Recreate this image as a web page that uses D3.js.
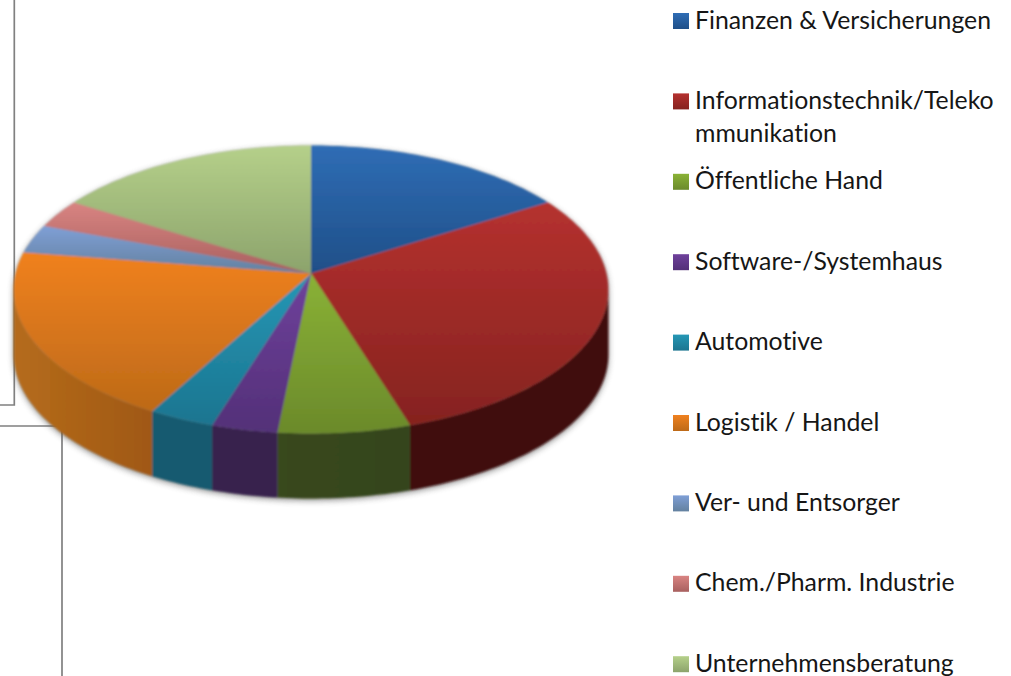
<!DOCTYPE html>
<html>
<head>
<meta charset="utf-8">
<script src="https://cdn.jsdelivr.net/npm/d3@7"></script>
<style>
    html, body { margin: 0; padding: 0; background: #fff; overflow: hidden; }
    text { font-family: Lato, "Open Sans", sans-serif; font-size: 24.8px; fill: #161616; font-variant-ligatures: none; }
</style>
</head>
<body>
<div id="chart"></div>
<script>
// companies per sector, counted from the slice sizes
let categories = ["Finanzen & Versicherungen", "Informationstechnik/Teleko\nmmunikation", "Öffentliche Hand", "Software-/Systemhaus", "Automotive", "Logistik / Handel", "Ver- und Entsorger", "Chem./Pharm. Industrie", "Unternehmensberatung"]
let values = [5, 9, 2, 1, 1, 6, 1, 1, 5]

// top gradient, bottom gradient, side wall (left end, right end)
let topColors = ["#2f6db5", "#b5312f", "#8ab236", "#6f419c", "#2597b5", "#f0811f", "#7f9fd6", "#d98482", "#b5d08a"]
let bottomColors = ["#1f4f88", "#85231f", "#6b8a2b", "#533078", "#1c7590", "#bd6a18", "#63819f", "#a8605f", "#8ca36c"]
let sideLeftColors = ["#1a3a60", "#3f0f0f", "#39481a", "#38234d", "#195a70", "#b56c1c", "#4a6078", "#784040", "#64754a"]
let sideRightColors = ["#1a3a60", "#3f0f0f", "#34451a", "#38234d", "#195a70", "#a05813", "#4a6078", "#784040", "#64754a"]

let width = 1011
let height = 676

// pie position and perspective
let apexX = 311
let apexY = 273.5
let radiusX = 295.5
let radiusY = 142.2
let perspective = 1 / 9
let depth = 65

// legend layout
let legendX = 673
let legendY = 13
let legendStep = 80.4
let legendBox = 16
let lineHeight = 33

let svg = d3.select("#chart").append("svg").attr("width", width).attr("height", height).style("display", "block")
let defs = svg.append("defs")

defs.append("filter").attr("id", "shadow").attr("x", "-10%").attr("y", "-10%").attr("width", "120%").attr("height", "120%")
    .append("feGaussianBlur").attr("stdDeviation", 3)
defs.append("filter").attr("id", "soften")
    .append("feGaussianBlur").attr("stdDeviation", 0.8)

categories.forEach((c, i) => {
    let g = defs.append("linearGradient").attr("id", "grad" + i).attr("x1", 0).attr("y1", 0).attr("x2", 0).attr("y2", 1)
    g.append("stop").attr("offset", "0%").attr("stop-color", topColors[i])
    g.append("stop").attr("offset", "100%").attr("stop-color", bottomColors[i])
    let s = defs.append("linearGradient").attr("id", "side" + i).attr("x1", 0).attr("y1", 0).attr("x2", 1).attr("y2", 0)
    s.append("stop").attr("offset", "0%").attr("stop-color", sideLeftColors[i])
    s.append("stop").attr("offset", "100%").attr("stop-color", sideRightColors[i])
})

// the leftover frames behind the pie
let frames = svg.append("g").attr("fill", "none").attr("stroke", "#808080").attr("stroke-width", 1.7)
frames.append("path").attr("d", d3.line()([[14.3, 0], [14.3, 405], [0, 405]]))
frames.append("path").attr("d", d3.line()([[0, 426], [62, 426], [62, height]]))

// angle on the disc to a point on the screen
function project(angle, drop){
    let px = Math.sin(angle)
    let py = Math.cos(angle)
    let w = 1 + perspective * py
    return [apexX + radiusX * px / w, apexY - radiusY * py / w + drop]
}

function sampleAngles(a0, a1){
    let n = Math.max(2, Math.ceil((a1 - a0) / 0.02))
    return d3.range(n + 1).map(i => a0 + (a1 - a0) * i / n)
}

let pie = d3.pie().sort(null).value(d => d)
let slices = pie(values)

// where the rim turns away from the viewer
let rightAngle = Math.acos(-perspective)
let leftAngle = 2 * Math.PI - rightAngle

let line = d3.line()
let hull = sampleAngles(rightAngle, leftAngle).map(a => project(a, depth))
    .concat(sampleAngles(leftAngle, rightAngle + 2 * Math.PI).map(a => project(a, 0)))

svg.append("path")
    .attr("d", line(hull) + "Z")
    .attr("transform", "translate(0,2)")
    .attr("fill", "#555")
    .attr("opacity", 0.65)
    .attr("filter", "url(#shadow)")

let pieGroup = svg.append("g").attr("filter", "url(#soften)")

// side wall
slices.forEach((d, i) => {
    let a0 = Math.max(d.startAngle, rightAngle)
    let a1 = Math.min(d.endAngle, leftAngle)
    if(a1 <= a0){
        return
    }
    let angles = sampleAngles(a0, a1)
    let pts = angles.map(a => project(a, 0)).concat(angles.slice().reverse().map(a => project(a, depth)))
    pieGroup.append("path")
        .attr("d", line(pts) + "Z")
        .attr("fill", "url(#side" + i + ")")
})

// top of the pie
slices.forEach((d, i) => {
    let pts = [[apexX, apexY]].concat(sampleAngles(d.startAngle, d.endAngle).map(a => project(a, 0)))
    pieGroup.append("path")
        .attr("d", line(pts) + "Z")
        .attr("fill", "url(#grad" + i + ")")
})

// legend
let legend = svg.append("g")
categories.forEach((c, i) => {
    let y = legendY + i * legendStep
    legend.append("rect")
        .attr("x", legendX)
        .attr("y", y)
        .attr("width", legendBox)
        .attr("height", legendBox)
        .attr("fill", "url(#grad" + i + ")")
    let t = legend.append("text").attr("x", legendX + 22).attr("y", y + 15.5)
    c.split("\n").forEach((part, j) => {
        t.append("tspan").attr("x", legendX + 22).attr("dy", j == 0 ? 0 : lineHeight).text(part)
    })
})
</script>
</body>
</html>
